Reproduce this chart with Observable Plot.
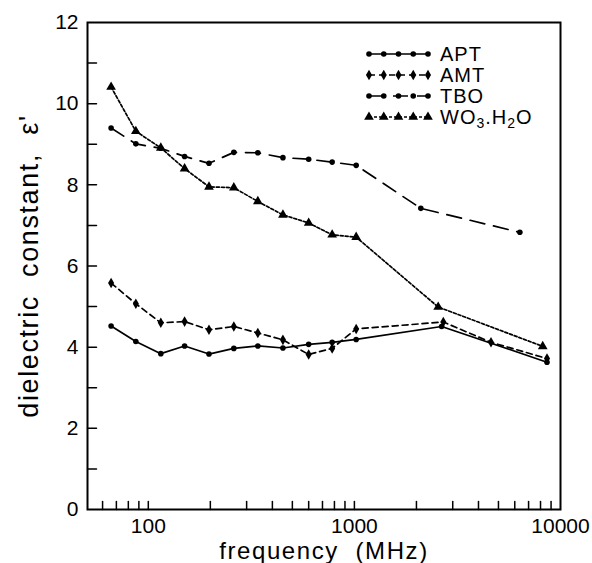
<!DOCTYPE html>
<html>
<head>
<meta charset="utf-8">
<script src="https://cdn.jsdelivr.net/npm/d3@7"></script>
<script src="https://cdn.jsdelivr.net/npm/@observablehq/plot@0.6"></script>
<style>
  html, body { margin: 0; padding: 0; background: white; }
  #chart { width: 592px; height: 563px; }
</style>
</head>
<body>
<div id="chart"></div>
<script>
// ---- data ----
const seriesNames = ["APT", "AMT", "TBO", "WO3.H2O"];

const aptFreq = [66, 87, 115, 150, 197, 260, 340, 450, 600, 780, 1020, 2650, 8600];
const aptEps  = [4.52, 4.14, 3.84, 4.03, 3.83, 3.97, 4.03, 3.98, 4.07, 4.12, 4.19, 4.51, 3.63];

const amtFreq = [66, 87, 115, 150, 197, 260, 340, 450, 600, 780, 1020, 2700, 4600, 8600];
const amtEps  = [5.58, 5.07, 4.60, 4.63, 4.43, 4.51, 4.35, 4.18, 3.82, 3.97, 4.45, 4.62, 4.12, 3.72];

const tboFreq = [66, 87, 115, 150, 197, 260, 340, 450, 600, 780, 1020, 2100, 6350];
const tboEps  = [9.40, 9.01, 8.90, 8.70, 8.53, 8.80, 8.79, 8.67, 8.63, 8.56, 8.48, 7.42, 6.83];

const wo3Freq = [66, 87, 115, 150, 197, 260, 340, 450, 600, 780, 1020, 2550, 8200];
const wo3Eps  = [10.41, 9.32, 8.91, 8.40, 7.95, 7.93, 7.59, 7.26, 7.06, 6.77, 6.71, 4.99, 4.02];

const xTickLabels = [100, 1000, 10000];
const xMinorTicks = [60, 70, 80, 90, 100, 200, 300, 400, 500, 600, 700, 800, 900, 1000,
                     2000, 3000, 4000, 5000, 6000, 7000, 8000, 9000];
const yTickLabels = [0, 2, 4, 6, 8, 10, 12];
const yMinorTicks = [1, 2, 3, 4, 5, 6, 7, 8, 9, 10, 11];

const xDomain = [50.7, 10000];
const yDomain = [0, 12];

const xTitle = "frequency  (MHz)";
const yTitle = "dielectric  constant,  \u03b5'";

// ---- build table ----
function rows(name, fs, vs) { return fs.map((f, i) => ({series: name, f, v: vs[i]})); }
const data = [
  ...rows("APT", aptFreq, aptEps),
  ...rows("AMT", amtFreq, amtEps),
  ...rows("TBO", tboFreq, tboEps),
  ...rows("WO3.H2O", wo3Freq, wo3Eps)
];

const styles = {
  "APT":     {dash: null,   symbol: "circle",   r: 2.8},
  "AMT":     {dash: "6,4",  symbol: "diamond",  r: 3.2},
  "TBO":     {dash: "15,9", symbol: "circle",   r: 2.8},
  "WO3.H2O": {dash: "3,2",  symbol: "triangle", r: 3.6}
};

const FONT = "'Liberation Sans', Arial, sans-serif";

// straight tick shape for vectors
const tickShape = {draw(context, l) { context.moveTo(0, 0); context.lineTo(0, -l); }};

const marks = [];
for (const s of seriesNames) {
  const d = data.filter(r => r.series === s);
  const st = styles[s];
  marks.push(Plot.line(d, {x: "f", y: "v", stroke: "black", strokeWidth: 1.7,
    strokeDasharray: st.dash || undefined}));
  marks.push(Plot.dot(d, {x: "f", y: "v", fill: "black", stroke: "none",
    symbol: st.symbol, r: st.r}));
}

const plot = Plot.plot({
  width: 592,
  height: 563,
  marginLeft: 87,
  marginRight: 32,
  marginTop: 22,
  marginBottom: 54,
  style: {fontFamily: FONT, background: "white", color: "black"},
  x: {type: "log", domain: xDomain},
  y: {domain: yDomain},
  marks: [
    Plot.frame({stroke: "black", strokeWidth: 2}),
    // inward tick marks
    Plot.vector(xMinorTicks, {x: d => d, y: yDomain[0], length: 8, rotate: 0, anchor: "start",
      shape: tickShape, stroke: "black", strokeWidth: 1.5}),
    Plot.vector(yMinorTicks, {x: xDomain[0], y: d => d, length: 9, rotate: 90, anchor: "start",
      shape: tickShape, stroke: "black", strokeWidth: 1.5}),
    // tick labels
    Plot.axisX(xTickLabels, {anchor: "bottom", tickSize: 0, tickPadding: 9, label: null,
      tickFormat: d3.format("d"), fontSize: 21, style: "letter-spacing: 1px"}),
    Plot.axisY(yTickLabels, {anchor: "left", tickSize: 0, tickPadding: 9, label: null,
      tickFormat: d3.format("d"), fontSize: 21}),
    // axis titles
    Plot.text([xTitle], {frameAnchor: "bottom", textAnchor: "middle", dy: 42, fontSize: 24,
      lineAnchor: "middle"}),
    Plot.text([yTitle], {frameAnchor: "left", textAnchor: "middle", dx: -58, rotate: -90,
      fontSize: 27, lineAnchor: "middle"}),
    ...marks
  ]
});

document.getElementById("chart").appendChild(plot);

// letter spacing on the titles to mimic the wide stroke font
d3.select(plot).selectAll("text").filter(function() {
  const t = this.textContent;
  return t === xTitle || t === yTitle;
}).style("letter-spacing", "1.6px");

// ---- legend (top right inside plot) ----
const svg = d3.select(plot);
const leg = svg.append("g").attr("font-family", FONT).attr("font-size", 20)
  .attr("text-anchor", "start").style("letter-spacing", "1px");
const legX0 = 369, legX1 = 428, legText = 440;
const legY = [54, 75, 96, 117];
const symType = {circle: d3.symbolCircle, diamond: d3.symbolDiamond, triangle: d3.symbolTriangle};
seriesNames.forEach((s, i) => {
  const st = styles[s];
  const y = legY[i];
  leg.append("line").attr("x1", legX0).attr("x2", legX1).attr("y1", y).attr("y2", y)
    .attr("stroke", "black").attr("stroke-width", 1.7)
    .attr("stroke-dasharray", st.dash || null);
  const xs = d3.range(5).map(k => legX0 + k * (legX1 - legX0) / 4);
  xs.forEach(x => {
    leg.append("path")
      .attr("d", d3.symbol().type(symType[st.symbol]).size(Math.PI * st.r * st.r)())
      .attr("transform", `translate(${x},${y})`).attr("fill", "black");
  });
  const t = leg.append("text").attr("x", legText).attr("y", y).attr("dy", "0.36em");
  if (s === "WO3.H2O") {
    t.append("tspan").text("WO");
    t.append("tspan").text("3").attr("font-size", 14).attr("dy", 4);
    t.append("tspan").text(".H").attr("dy", -4);
    t.append("tspan").text("2").attr("font-size", 14).attr("dy", 4);
    t.append("tspan").text("O").attr("dy", -4);
  } else {
    t.text(s);
  }
});
</script>
</body>
</html>
